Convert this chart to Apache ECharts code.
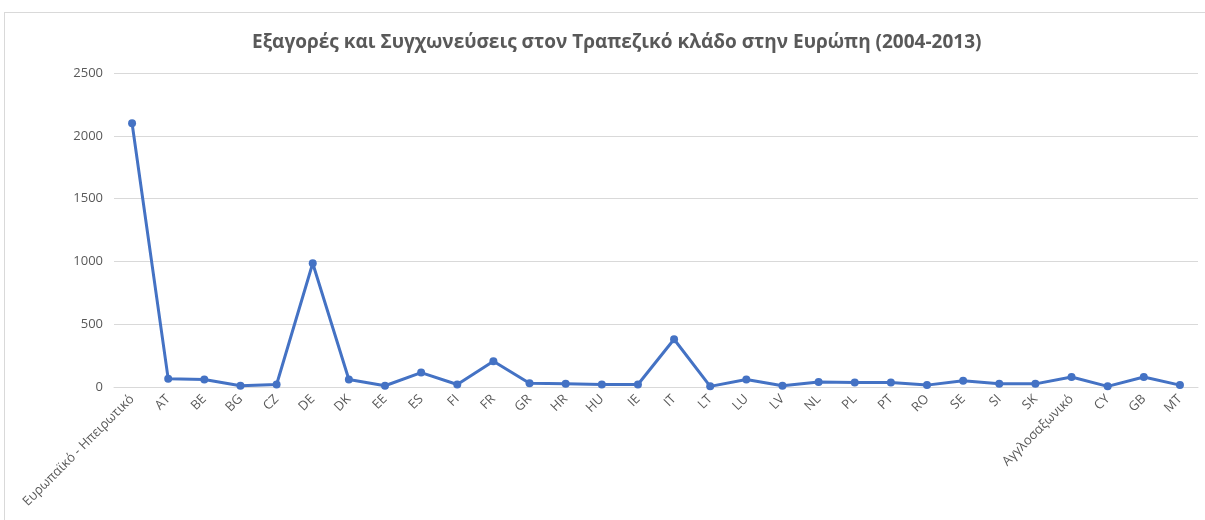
<!DOCTYPE html>
<html>
<head>
<meta charset="utf-8">
<script src="https://cdn.jsdelivr.net/npm/echarts@6/dist/echarts.min.js"></script>
<style>
  body { margin: 0; background: #fff; }
  #frame {
    position: absolute; left: 4px; top: 12px; width: 1210px; height: 520px;
    border: 1px solid #d9d9d9; box-sizing: border-box;
  }
  #main { position: absolute; left: 0; top: 0; width: 1205px; height: 520px; }
</style>
</head>
<body>
<div id="frame"></div>
<div id="main"></div>
<script>
// categories (regions / countries)
const categories = [
  'Ευρωπαϊκό - Ηπειρωτικό', 'AT', 'BE', 'BG', 'CZ', 'DE', 'DK', 'EE', 'ES', 'FI',
  'FR', 'GR', 'HR', 'HU', 'IE', 'IT', 'LT', 'LU', 'LV', 'NL',
  'PL', 'PT', 'RO', 'SE', 'SI', 'SK', 'Αγγλοσαξωνικό', 'CY', 'GB', 'MT'
]
// number of M&A deals
const deals = [
  2100, 65, 60, 10, 20, 985, 60, 10, 115, 20,
  205, 30, 25, 20, 20, 380, 5, 60, 10, 40,
  35, 35, 15, 50, 25, 25, 80, 5, 80, 15
]
const yTicks = [0, 500, 1000, 1500, 2000, 2500]

let option = {
  animation: false,
  textStyle: { fontFamily: 'Open Sans' },
  title: {
    text: 'Εξαγορές και Συγχωνεύσεις στον Τραπεζικό κλάδο στην Ευρώπη (2004-2013)',
    left: 247,
    top: 28,
    textStyle: {
      color: '#595959',
      fontSize: 19,
      fontWeight: 'bold',
      fontFamily: 'Open Sans'
    }
  },
  grid: { left: 114, right: 7, top: 73, bottom: 133 },
  xAxis: {
    type: 'category',
    data: categories,
    boundaryGap: true,
    axisLine: { show: true, lineStyle: { color: '#d9d9d9', width: 1 } },
    axisTick: { show: false },
    axisLabel: {
      rotate: 45,
      interval: 0,
      color: '#595959',
      fontSize: 13,
      margin: 10
    }
  },
  yAxis: {
    type: 'value',
    min: yTicks[0],
    max: yTicks[yTicks.length - 1],
    interval: 500,
    axisLine: { show: false },
    axisTick: { show: false },
    axisLabel: { color: '#595959', fontSize: 13, margin: 11, formatter: v => String(v) },
    splitLine: { lineStyle: { color: '#d9d9d9', width: 1 } }
  },
  series: [
    {
      type: 'line',
      data: deals,
      symbol: 'circle',
      symbolSize: 8,
      lineStyle: { color: '#4472c4', width: 3 },
      itemStyle: { color: '#4472c4' }
    }
  ]
}

let mychart = echarts.init(document.getElementById('main'))
mychart.setOption(option)
</script>
</body>
</html>
